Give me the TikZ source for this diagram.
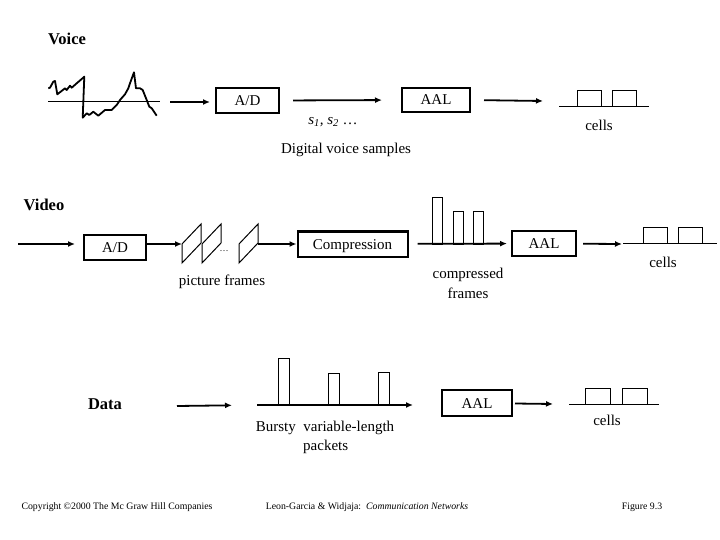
\documentclass[tikz,border=0pt]{standalone}
\usepackage{fontspec}
\setmainfont{Liberation Serif}
\usepackage{xcolor}
\usepackage{tikz}
\usetikzlibrary{arrows.meta,calc,positioning}
\definecolor{ink}{HTML}{000000}
\tikzset{
  blockbox/.style={
    draw=ink,
    line width=2pt,
    inner sep=0pt,
    minimum height=25pt,
    text height=11pt,
    text depth=1pt,
    text=ink,
    font=\fontsize{15}{18}\selectfont
  },
  flowarrow/.style={-{Latex[length=7pt,width=6pt]}, line width=1.8pt, draw=ink},
  thinline/.style={line width=1pt, draw=ink},
  cellbox/.style={line width=1pt, draw=ink},
  wavepen/.style={line width=1.8pt, draw=ink, line join=round},
  rowtitle/.style={font=\fontsize{16.5}{20}\selectfont\bfseries, text=ink},
  ann/.style={font=\fontsize{15}{19}\selectfont, text=ink, align=center, inner sep=0pt},
  footnote/.style={font=\fontsize{9.8}{12}\selectfont, text=ink, inner sep=0pt}
}

\begin{document}
\begin{tikzpicture}[x=1pt, y=-1pt]
  \useasboundingbox (0,0) rectangle (720,540);

  % voice
  \node[rowtitle] (voice) at (67,39) {Voice};
  \draw[thinline] (48,102) -- (160,102);
  \draw[wavepen] plot coordinates {(48.3,88.3) (50,87.7) (53.3,81.7) (55,81) (57.3,94.3) (60.7,91.7)
    (65,88.3) (66.7,90) (70,85.7) (71.7,87.7) (76.7,83.3) (81.7,79) (84.3,76.7) (82.7,117.7)
    (86.7,113.3) (89.3,115) (93.3,111.7) (98.3,115.7) (105,110) (111.7,110) (116.7,105) (120,100)
    (125,94.3) (128.3,88.3) (130,83.3) (134,72.3) (136,88.3) (140,88.3) (142.7,90) (146.7,100)
    (149.3,106.7) (151.7,108.3) (156.7,115.7)};
  \coordinate (wave) at (170,102);
  \node[blockbox, minimum width=63pt] (vad) at (247.5,100.5) {A/D};
  \node[blockbox, minimum width=68pt, minimum height=24pt] (vaal) at (436,100) {AAL};
  \coordinate (vcell-in) at (543,101);

  \draw[flowarrow, shorten >=5pt] (wave) -- (wave -| vad.west);
  \draw[flowarrow, shorten <=13pt, shorten >=19pt] (vad.east) -- (vaal.west);
  \draw[flowarrow, shorten <=13pt] (vaal.east) -- (vcell-in);

  \draw[thinline] (559,107) -- (649,107);
  \foreach \cx in {577,612}
    \draw[cellbox] (\cx,107) rectangle ++(24,-16);

  \node[ann] (vsamp) at (333,122) {{\itshape s\textsubscript{1}, s\textsubscript{2}} \ldots};
  \node[ann] (vdigital) at (346,150) {Digital voice samples};
  \node[ann] (vcells) at (599,125) {cells};

  % video
  \node[rowtitle] (video) at (44,205) {Video};
  \coordinate (vid-in) at (18,244);
  \node[blockbox, minimum width=62pt] (dad) at (115,247.5) {A/D};
  \draw[flowarrow, shorten >=8pt] (vid-in) -- (vid-in -| dad.west);

  \foreach \fx in {182,202,239}
    \draw[thinline] (\fx,263) -- (\fx,244) -- (\fx+19,224) -- (\fx+19,243) -- cycle;
  \node[font=\small, inner sep=0pt] (fdots) at (224,251) {\ldots};
  \coordinate (frame-in) at (182,244);
  \coordinate (frame-out) at (258,244);
  \draw[flowarrow] (dad.east |- frame-in) -- (frame-in);

  \node[blockbox, minimum width=110pt] (comp) at (352.5,244) {Compression};
  \node[blockbox, minimum width=64pt] (daal) at (544,243.5) {AAL};
  \coordinate (dcell-in) at (622,244);
  \draw[flowarrow] (frame-out) -- (comp);
  \draw[flowarrow, shorten <=9pt, shorten >=4pt] (comp) -- (daal);
  \draw[flowarrow, shorten <=6pt] (daal) -- (dcell-in);

  \foreach \bx/\bt in {432/198, 453/212, 473/212}
    \draw[cellbox] (\bx,244) rectangle (\bx+10,\bt);

  \draw[thinline] (623,243) -- (717,243);
  \foreach \cx in {643,678}
    \draw[cellbox] (\cx,243) rectangle ++(24,-15);

  \node[ann] (frameslbl) at (222,282) {picture frames};
  \node[ann, text width=3cm] (complbl) at (468,283.5) {compressed\\[1pt]frames};
  \node[ann] (dcells) at (663,262) {cells};

  % data
  \node[rowtitle] (data) at (105,404) {Data};
  \coordinate (data-out) at (177,406);
  \coordinate (burst-start) at (257,405);
  \node[blockbox, minimum width=70pt, minimum height=26pt] (taal) at (477,403) {AAL};
  \coordinate (tcell-in) at (553,404);
  \draw[flowarrow, shorten >=25pt] (data-out) -- (burst-start);
  \draw[flowarrow, shorten >=28pt] (burst-start) -- (burst-start -| taal.west);
  \draw[flowarrow, shorten <=2pt] (taal) -- (tcell-in);

  \foreach \bx/\bt in {278/358, 328/373, 378/372}
    \draw[cellbox] (\bx,405) rectangle (\bx+11,\bt);

  \draw[thinline] (569,404) -- (659,404);
  \foreach \cx in {585,622}
    \draw[cellbox] (\cx,404) rectangle ++(25,-16);

  \node[ann] (burstlbl) at (325,428) {Bursty\enspace variable-length};
  \node[ann, anchor=west] (packlbl) at (303,447) {packets};
  \node[ann] (tcells) at (607,420) {cells};

  % footer
  \node[footnote] (copy) at (117,507) {Copyright \textcopyright2000 The Mc Graw Hill Companies};
  \node[footnote] (book) at (367,507) {Leon-Garcia \& Widjaja:\enspace\textit{Communication Networks}};
  \node[footnote] (fig) at (642,507) {Figure 9.3};
\end{tikzpicture}
\end{document}
